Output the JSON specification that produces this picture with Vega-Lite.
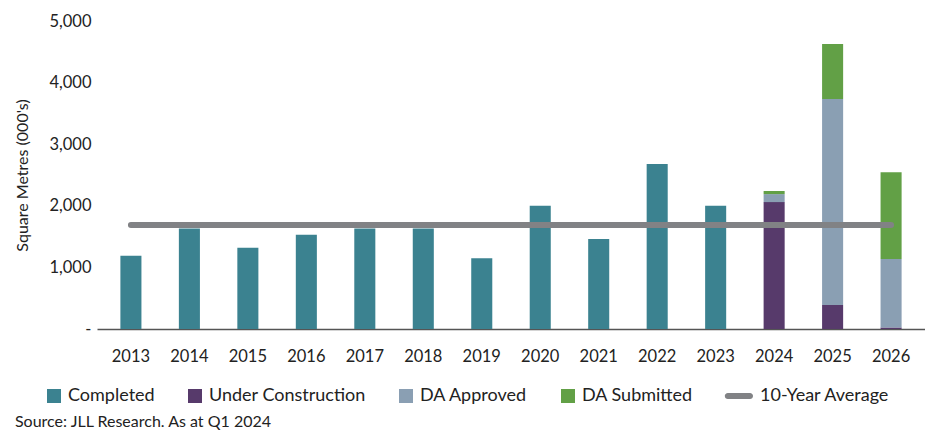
{
  "$schema": "https://vega.github.io/schema/vega-lite/v6.json",
  "width": 828,
  "height": 308,
  "padding": {"left": 14, "top": 13, "right": 0, "bottom": 0},
  "autosize": {"type": "pad"},
  "config": {
    "font": "Lato",
    "view": {"stroke": null},
    "axis": {"labelColor": "#222222", "titleColor": "#222222"}
  },
  "datasets": {
    "bars": [
      {"year": "2013", "category": "Completed", "stage": 0, "value": 1190},
      {"year": "2014", "category": "Completed", "stage": 0, "value": 1630},
      {"year": "2015", "category": "Completed", "stage": 0, "value": 1320},
      {"year": "2016", "category": "Completed", "stage": 0, "value": 1530},
      {"year": "2017", "category": "Completed", "stage": 0, "value": 1630},
      {"year": "2018", "category": "Completed", "stage": 0, "value": 1630},
      {"year": "2019", "category": "Completed", "stage": 0, "value": 1150},
      {"year": "2020", "category": "Completed", "stage": 0, "value": 2000},
      {"year": "2021", "category": "Completed", "stage": 0, "value": 1460},
      {"year": "2022", "category": "Completed", "stage": 0, "value": 2680},
      {"year": "2023", "category": "Completed", "stage": 0, "value": 2000},
      {"year": "2024", "category": "Under Construction", "stage": 1, "value": 2060},
      {"year": "2024", "category": "DA Approved", "stage": 2, "value": 130},
      {"year": "2024", "category": "DA Submitted", "stage": 3, "value": 50},
      {"year": "2025", "category": "Under Construction", "stage": 1, "value": 390},
      {"year": "2025", "category": "DA Approved", "stage": 2, "value": 3345},
      {"year": "2025", "category": "DA Submitted", "stage": 3, "value": 890},
      {"year": "2026", "category": "Under Construction", "stage": 1, "value": 25},
      {"year": "2026", "category": "DA Approved", "stage": 2, "value": 1110},
      {"year": "2026", "category": "DA Submitted", "stage": 3, "value": 1410}
    ],
    "average": [
      {"year": "2013", "value": 1690},
      {"year": "2026", "value": 1690}
    ]
  },
  "title": {
    "text": "Source: JLL Research. As at Q1 2024",
    "orient": "bottom",
    "anchor": "start",
    "frame": "bounds",
    "fontSize": 16,
    "fontWeight": "normal",
    "color": "#222222",
    "offset": 9
  },
  "layer": [
    {
      "data": {"name": "bars"},
      "mark": {"type": "bar"},
      "encoding": {
        "x": {
          "field": "year",
          "type": "ordinal",
          "scale": {"paddingInner": 0.64, "paddingOuter": 0.4},
          "axis": {
            "title": null,
            "labelAngle": 0,
            "labelFontSize": 16.5,
            "ticks": false,
            "labelPadding": 19,
            "domainColor": "#555555",
            "domainWidth": 1.5,
            "grid": false
          }
        },
        "y": {
          "field": "value",
          "type": "quantitative",
          "stack": "zero",
          "scale": {"domain": [0, 5000], "nice": false},
          "axis": {
            "title": "Square Metres (000's)",
            "values": [0, 1000, 2000, 3000, 4000, 5000],
            "labelExpr": "datum.value === 0 ? '-' : format(datum.value, ',')",
            "grid": false,
            "domain": false,
            "ticks": false,
            "labelPadding": 6,
            "labelFontSize": 16.5,
            "titleFontSize": 16,
            "titleFontWeight": "normal",
            "titlePadding": 18
          }
        },
        "color": {
          "field": "category",
          "type": "nominal",
          "scale": {
            "domain": ["Completed", "Under Construction", "DA Approved", "DA Submitted", "10-Year Average"],
            "range": ["#3B8290", "#573A6B", "#8A9FB3", "#62A046", "#818285"]
          },
          "legend": {
            "orient": "none",
            "legendX": -52,
            "legendY": 366,
            "direction": "horizontal",
            "title": null,
            "symbolType": "square",
            "symbolSize": 196,
            "symbolStrokeWidth": 0,
            "labelFontSize": 18,
            "labelLimit": 400,
            "labelOffset": 5,
            "columnPadding": 31,
            "labelColor": "#222222",
            "encode": {
              "symbols": {
                "update": {
                  "shape": {"signal": "datum.value === '10-Year Average' ? 'M-2.6,-0.43H0.57A0.43,0.43 0 0 1 0.57,0.43H-2.6A0.43,0.43 0 0 1 -2.6,-0.43Z' : 'square'"}
                }
              }
            }
          }
        },
        "order": {"field": "stage", "type": "quantitative"}
      }
    },
    {
      "data": {"name": "average"},
      "mark": {"type": "line", "color": "#818285", "strokeWidth": 6, "strokeCap": "round"},
      "encoding": {
        "x": {"field": "year", "type": "ordinal"},
        "y": {"field": "value", "type": "quantitative"}
      }
    }
  ]
}
